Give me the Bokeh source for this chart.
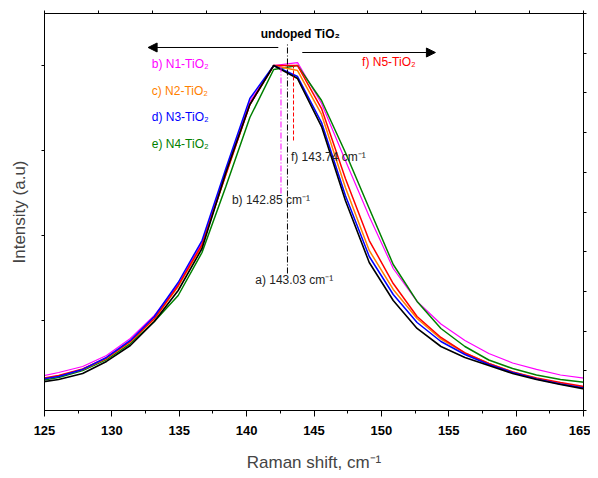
from bokeh.plotting import figure
from bokeh.models import (Range1d, LinearAxis, FixedTicker, SingleIntervalTicker,
                          Label, Arrow, NormalHead)
from bokeh.embed import file_html
from bokeh.resources import INLINE

# ---------------- data ----------------
RAMAN_SHIFT = [124.28, 126.05, 127.83, 129.60, 131.37, 133.15, 134.92, 136.69,
               138.46, 140.24, 142.01, 143.78, 145.56, 147.33, 149.10, 150.88,
               152.65, 154.42, 156.20, 157.97, 159.74, 161.51, 163.29, 165.06]

UNDOPED = [265, 306, 376, 518, 706, 988, 1353, 1847, 2741, 3541, 4000, 3847,
           3282, 2412, 1682, 1235, 906, 694, 565, 471, 376, 306, 247, 194]
N1 = [329, 388, 459, 588, 788, 1059, 1424, 1918, 2753, 3576, 4000, 4035,
      3553, 2882, 2224, 1612, 1224, 959, 765, 612, 500, 424, 359, 321]
N2 = [300, 347, 424, 553, 747, 1018, 1400, 1882, 2718, 3541, 4000, 3941,
      3424, 2565, 1824, 1365, 1024, 782, 618, 494, 394, 318, 259, 212]
N3 = [300, 341, 424, 565, 765, 1047, 1447, 1941, 2788, 3612, 4000, 3871,
      3329, 2471, 1753, 1306, 976, 753, 600, 482, 388, 312, 253, 206]
N4 = [282, 329, 412, 541, 729, 988, 1294, 1800, 2576, 3388, 3953, 4000,
      3588, 2976, 2318, 1659, 1224, 906, 694, 535, 435, 359, 306, 274]
N5 = [306, 353, 429, 559, 753, 1024, 1412, 1894, 2718, 3541, 4000, 4000,
      3494, 2671, 1941, 1435, 1047, 800, 618, 494, 394, 324, 271, 224]

SERIES_NAMES = ["b) N1-TiO\u2082", "c) N2-TiO\u2082", "d) N3-TiO\u2082",
                "e) N4-TiO\u2082", "f) N5-TiO\u2082"]
COLORS = {"N1": "#FF00FF", "N2": "#FF8000", "N3": "#0000FF",
          "N4": "#008000", "N5": "#FF0000", "undoped": "#000000"}

# peak position markers (x, y_bottom, y_top)
PEAK_UNDOPED = (143.03, 1553, 4271)
PEAK_N1 = (142.55, 2494, 4000)
PEAK_N5 = (143.48, 3118, 4000)
PEAK_LABELS = ["a) 143.03 cm\u207b\u00b9", "b) 142.85 cm\u207b\u00b9", "f) 143.74 cm\u207b\u00b9"]

FONT = "Liberation Sans"

p = figure(frame_width=539, frame_height=397, output_backend="svg",
           toolbar_location=None, x_range=Range1d(125, 165),
           y_range=Range1d(-59, 4612),
           min_border_left=44, min_border_right=7, min_border_top=13,
           min_border_bottom=60)
p.background_fill_color = "white"
p.border_fill_color = "white"
p.grid.visible = False
p.outline_line_color = "black"
p.outline_line_width = 1

# bottom axis
xa = p.xaxis[0]
xa.ticker = SingleIntervalTicker(interval=5, num_minor_ticks=2)
xa.major_tick_out = 6
xa.major_tick_in = 0
xa.minor_tick_out = 3
xa.minor_tick_in = 0
xa.major_label_standoff = 9
xa.major_label_text_font = FONT
xa.major_label_text_font_style = "bold"
xa.major_label_text_font_size = "13px"
xa.major_label_text_color = "black"
xa.axis_label = "Raman shift, cm\u207b\u00b9"
xa.axis_label_text_font = FONT
xa.axis_label_text_font_style = "normal"
xa.axis_label_text_font_size = "17px"
xa.axis_label_standoff = 15
xa.axis_line_color = "black"
xa.major_tick_line_color = "black"
xa.minor_tick_line_color = "black"

# left axis
ya = p.yaxis[0]
ya.ticker = FixedTicker(ticks=[1000, 2000, 3000, 4000])
ya.major_tick_out = 3
ya.major_tick_in = 0
ya.minor_tick_out = 0
ya.major_label_overrides = {1000: "", 2000: "", 3000: "", 4000: ""}
ya.major_label_text_font_size = "0px"
ya.major_label_standoff = 2
ya.axis_label = "Intensity (a.u)"
ya.axis_label_text_font = FONT
ya.axis_label_text_font_style = "normal"
ya.axis_label_text_font_size = "17px"
ya.axis_label_standoff = 13
ya.axis_line_color = "black"

# top axis (mirror, 4-unit ticks)
p.extra_x_ranges = {"top": Range1d(125, 165)}
top_ticks = [125, 129, 133, 137, 141, 145, 149, 153, 157, 161, 165]
ta = LinearAxis(x_range_name="top", ticker=FixedTicker(ticks=top_ticks),
                major_tick_out=3, major_tick_in=0, minor_tick_out=0,
                major_label_standoff=0, major_label_text_font_size="0px",
                major_label_overrides={t: "" for t in top_ticks})
p.add_layout(ta, "above")

# right axis (mirror, 10 divisions)
p.extra_y_ranges = {"right": Range1d(0, 10)}
right_ticks = list(range(11))
ra = LinearAxis(y_range_name="right", ticker=FixedTicker(ticks=right_ticks),
                major_tick_out=3, major_tick_in=0, minor_tick_out=0,
                major_label_standoff=0, major_label_text_font_size="0px",
                major_label_overrides={t: "" for t in right_ticks})
p.add_layout(ra, "right")

# curves
p.line(RAMAN_SHIFT, N1, line_color=COLORS["N1"], line_width=1.2)
p.line(RAMAN_SHIFT, N4, line_color=COLORS["N4"], line_width=1.5)
p.line(RAMAN_SHIFT, N2, line_color=COLORS["N2"], line_width=1.5)
p.line(RAMAN_SHIFT, N5, line_color=COLORS["N5"], line_width=1.5)
p.line(RAMAN_SHIFT, N3, line_color=COLORS["N3"], line_width=1.5)
p.line(RAMAN_SHIFT, UNDOPED, line_color=COLORS["undoped"], line_width=1.6)

# peak marker lines
p.line([PEAK_UNDOPED[0], PEAK_UNDOPED[0]], [PEAK_UNDOPED[1], PEAK_UNDOPED[2]],
       line_color="black", line_width=1, line_dash="6 2 1 2")
p.line([PEAK_N1[0], PEAK_N1[0]], [PEAK_N1[1], PEAK_N1[2]],
       line_color=COLORS["N1"], line_width=1, line_dash="6 2 1 2")
p.line([PEAK_N5[0], PEAK_N5[0]], [PEAK_N5[1], PEAK_N5[2]],
       line_color=COLORS["N5"], line_width=1, line_dash="4 2")

# arrows
ARROW_LEFT = (142.35, 4212, 132.69, 4212)
ARROW_RIGHT = (144.13, 4153, 154.01, 4153)
for (xs, ys, xe, ye) in (ARROW_LEFT, ARROW_RIGHT):
    p.add_layout(Arrow(end=NormalHead(size=9, fill_color="black", line_color="black",
                                      line_width=1),
                       x_start=xs, y_start=ys, x_end=xe, y_end=ye,
                       line_color="black", line_width=1))

def lab(x, y, text, color="black", size="12px", style="normal", align="left"):
    p.add_layout(Label(x=x, y=y, text=text, text_color=color, text_font=FONT,
                       text_font_size=size, text_font_style=style,
                       text_align=align, text_baseline="middle"))

lab(143.98, 4376, "undoped TiO\u2082", style="bold", size="12px", align="center")
lab(132.96, 4020, SERIES_NAMES[0], color=COLORS["N1"])
lab(132.96, 3706, SERIES_NAMES[1], color=COLORS["N2"])
lab(132.96, 3392, SERIES_NAMES[2], color=COLORS["N3"])
lab(132.96, 3079, SERIES_NAMES[3], color=COLORS["N4"])
lab(148.57, 4039, SERIES_NAMES[4], color=COLORS["N5"])

lab(140.64, 1471, PEAK_LABELS[0], color="#222222")
lab(138.91, 2412, PEAK_LABELS[1], color="#222222")
lab(143.29, 2921, PEAK_LABELS[2], color="#222222")

open("out.html", "w").write(file_html(p, INLINE))
